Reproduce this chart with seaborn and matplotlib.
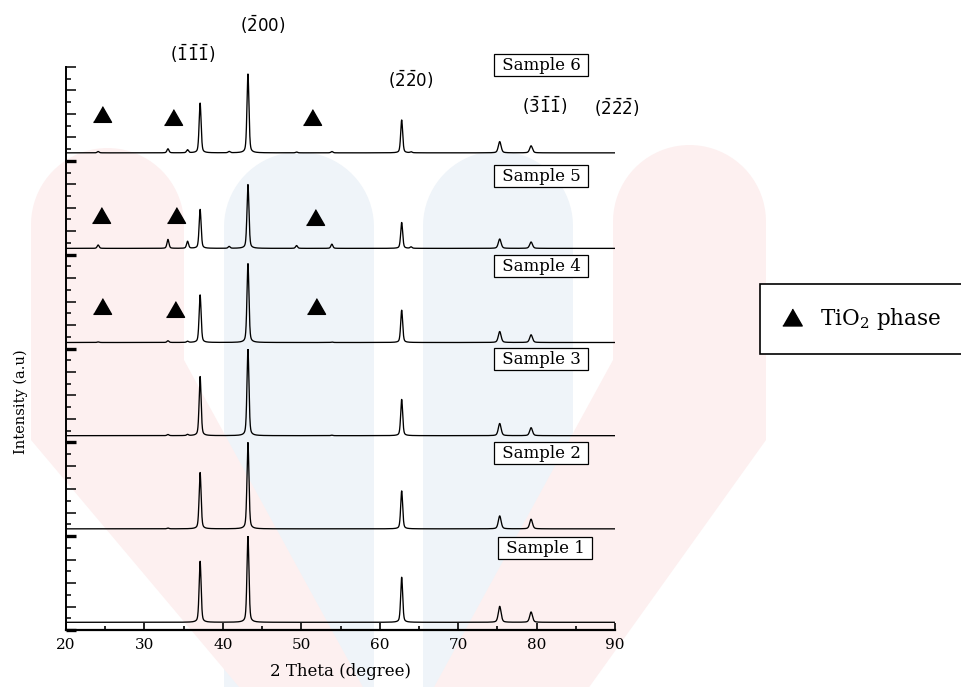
import numpy as np
import pandas as pd
import matplotlib
matplotlib.use("Agg")
import matplotlib.pyplot as plt
import matplotlib.transforms as mtransforms
from matplotlib.patches import Polygon
from matplotlib.lines import Line2D
import seaborn as sns

# ---------------- data ----------------
samples = ["Sample 1", "Sample 2", "Sample 3", "Sample 4", "Sample 5", "Sample 6"]
peak_theta = [24.1, 33.0, 35.5, 37.1, 40.8, 43.2, 49.4, 53.9, 62.8, 64.0, 75.3, 79.3]
heights_s1 = [0.0, 0.0, 0.0, 65.0, 0.0, 92.0, 0.0, 0.0, 48.0, 0.0, 17.0, 11.0]
heights_s2 = [0.0, 0.8, 0.0, 60.0, 0.0, 92.0, 0.0, 0.0, 40.4, 0.0, 13.8, 10.3]
heights_s3 = [0.0, 1.2, 1.2, 63.0, 0.0, 92.0, 0.0, 0.5, 38.6, 0.0, 13.0, 8.5]
heights_s4 = [0.6, 1.8, 1.2, 50.7, 0.0, 84.0, 0.0, 0.5, 34.4, 0.0, 11.7, 8.2]
heights_s5 = [3.6, 9.5, 7.5, 41.5, 2.0, 68.0, 3.0, 4.5, 27.6, 1.5, 10.0, 6.8]
heights_s6 = [1.4, 4.3, 3.2, 53.0, 1.4, 84.0, 0.9, 1.4, 35.0, 1.0, 12.0, 7.5]
baseline = [8.2, 7.8, 7.1, 6.4, 6.7, 8.5]

# TiO2 phase markers (2theta, intensity) for samples 4-6
tio2_theta_s4 = [24.6, 33.9, 51.9]
tio2_int_s4 = [44.8, 41.6, 44.8]
tio2_theta_s5 = [24.4, 34.0, 51.8]
tio2_int_s5 = [42.3, 42.3, 39.7]
tio2_theta_s6 = [24.6, 33.6, 51.4]
tio2_int_s6 = [49.4, 46.2, 47.2]

hkl_labels = [r"$(\bar{1}\bar{1}\bar{1})$", r"$(\bar{2}00)$", r"$(\bar{2}\bar{2}0)$",
              r"$(\bar{3}\bar{1}\bar{1})$", r"$(\bar{2}\bar{2}\bar{2})$"]
x_ticks = [20, 30, 40, 50, 60, 70, 80, 90]

all_heights = [heights_s1, heights_s2, heights_s3, heights_s4, heights_s5, heights_s6]
tio2 = {3: (tio2_theta_s4, tio2_int_s4), 4: (tio2_theta_s5, tio2_int_s5), 5: (tio2_theta_s6, tio2_int_s6)}

# ---------------- style ----------------
sns.set_theme(style="ticks")
plt.rcParams["font.family"] = ["DejaVu Serif"]
plt.rcParams["text.color"] = "black"
plt.rcParams["axes.labelcolor"] = "black"
plt.rcParams["axes.edgecolor"] = "black"
plt.rcParams["xtick.color"] = "black"
plt.rcParams["ytick.color"] = "black"
plt.rcParams["xtick.labelcolor"] = "black"

W, H = 961, 687
fig = plt.figure(figsize=(W / 100, H / 100), dpi=100, facecolor="white")
px = mtransforms.Affine2D().scale(1 / W, -1 / H).translate(0, 1) + fig.transFigure

# faint watermark in the background
def arch(x0, x1, ytop, pts_below):
    cx, r = (x0 + x1) / 2, (x1 - x0) / 2
    a = np.linspace(np.pi, 0, 40)
    top = np.column_stack([cx + r * np.cos(a), ytop + r - r * np.sin(a)])
    return np.vstack([top, pts_below])

pink, blue = "#fdf0f0", "#eff4f9"
fig.add_artist(Polygon(arch(224, 374, 152, [(374, 700), (224, 700)]), closed=True,
                       transform=px, fc=blue, ec="none", zorder=-3))
fig.add_artist(Polygon(arch(423, 573, 151, [(573, 700), (423, 700)]), closed=True,
                       transform=px, fc=blue, ec="none", zorder=-3))
fig.add_artist(Polygon(arch(31, 184, 148, [(184, 360), (370, 700), (250, 700), (31, 440)]),
                       closed=True, transform=px, fc=pink, ec="none", zorder=-2))
fig.add_artist(Polygon(arch(613, 766, 145, [(766, 440), (580, 700), (427, 700), (613, 360)]),
                       closed=True, transform=px, fc=pink, ec="none", zorder=-2))

# ---------------- panels ----------------
theta = np.arange(20.0, 90.0001, 0.01)
pt = np.array(peak_theta)
fwhm = np.where(pt > 70, 0.42, 0.30)

def pattern(h, base):
    d = (theta[:, None] - pt[None, :]) / fwhm[None, :]
    prof = 0.6 * np.exp(-4 * np.log(2) * d ** 2) + 0.4 / (1 + 4 * d ** 2)
    return base + prof @ np.array(h)

left_px, right_px = 66, 615
top_px, bot_px = 67, 630
ph = (bot_px - top_px) / 6
label_y = [86.9, 88.1, 88.8, 87.9, 83.8, 102.1]
label_x = [81.1, 80.6, 80.6, 80.6, 80.6, 80.6]

tri = [(-1, -0.87), (1, -0.87), (0, 0.87)]
axes = {}
for i in range(6):
    s = 5 - i  # top panel = Sample 6
    y0 = top_px + (i + 1) * ph
    ax = fig.add_axes([left_px / W, 1 - y0 / H, (right_px - left_px) / W, ph / H])
    ax.set_facecolor("none")
    axes[s] = ax
    df = pd.DataFrame({"2theta": theta, "intensity": pattern(all_heights[s], baseline[s])})
    sns.lineplot(data=df, x="2theta", y="intensity", ax=ax, color="black",
                 linewidth=0.95, estimator=None, sort=False)
    ax.set_xlim(20, 90)
    ax.set_ylim(0, 100)
    ax.set_xlabel("")
    ax.set_ylabel("")
    for sp in ["top", "right"]:
        ax.spines[sp].set_visible(False)
    ax.spines["left"].set_linewidth(1.4)
    ax.set_yticks([0, 25, 50, 75, 100])
    ax.set_yticks([12.5, 37.5, 62.5, 87.5], minor=True)
    ax.tick_params(axis="y", which="major", direction="in", length=7, width=1.1,
                   left=True, labelleft=False)
    ax.tick_params(axis="y", which="minor", direction="in", length=3.6, width=1.1,
                   left=True, labelleft=False)
    ax.yaxis.get_major_ticks()[0].tick1line.set_markeredgewidth(2.4)
    if s == 0:
        ax.spines["bottom"].set_linewidth(1.6)
        ax.set_xticks(x_ticks)
        ax.set_xticks(np.arange(25, 90, 10), minor=True)
        ax.tick_params(axis="x", which="major", direction="in", length=5, width=1.2,
                       labelsize=11, pad=5.5, labelcolor="black")
        ax.tick_params(axis="x", which="minor", direction="in", length=3, width=1.2)
        ax.set_xlabel("2 Theta (degree)", fontsize=12, labelpad=8, color="black")
    else:
        ax.spines["bottom"].set_visible(False)
        ax.tick_params(axis="x", which="both", bottom=False, labelbottom=False)
    ax.text(label_x[s], label_y[s], " " + samples[s] + " ", ha="center", va="center",
            fontsize=12, clip_on=False, color="black",
            bbox=dict(boxstyle="square,pad=0.15", fc="white", ec="black", lw=0.9))
    if s in tio2:
        tx, ty = tio2[s]
        ax.plot(tx, ty, linestyle="none", marker=tri, markersize=13, color="black")

# Miller index labels above the top panel
ax6 = axes[5]
hkl_x = [36.1, 45.05, 63.9, 81.0, 90.25]
hkl_y = [113.8, 145.3, 86.7, 58.4, 56.3]
for lab, hx, hy in zip(hkl_labels, hkl_x, hkl_y):
    ax6.text(hx, hy, lab, ha="center", va="center", fontsize=12, color="black",
             math_fontfamily="dejavusans", clip_on=False)

fig.text(21 / W, 1 - 401.5 / H, "Intensity (a.u)", rotation=90, ha="center",
         va="center", fontsize=10.5, color="black")

handle = Line2D([], [], linestyle="none", marker=tri, markersize=14, color="black")
leg = fig.legend([handle], ["TiO$_2$ phase"], loc="center left",
                 bbox_to_anchor=(760 / W, 1 - 319 / H),
                 frameon=True, fancybox=False, borderpad=1.0, handlelength=1.0,
                 handletextpad=0.8, borderaxespad=0, prop={"size": 15.5})
leg.get_frame().set_edgecolor("black")
leg.get_frame().set_linewidth(1.2)
leg.get_frame().set_facecolor("white")
leg.get_frame().set_alpha(1)
for t in leg.get_texts():
    t.set_math_fontfamily("dejavuserif")
    t.set_color("black")

fig.savefig("out.png", dpi=100, facecolor="white")
